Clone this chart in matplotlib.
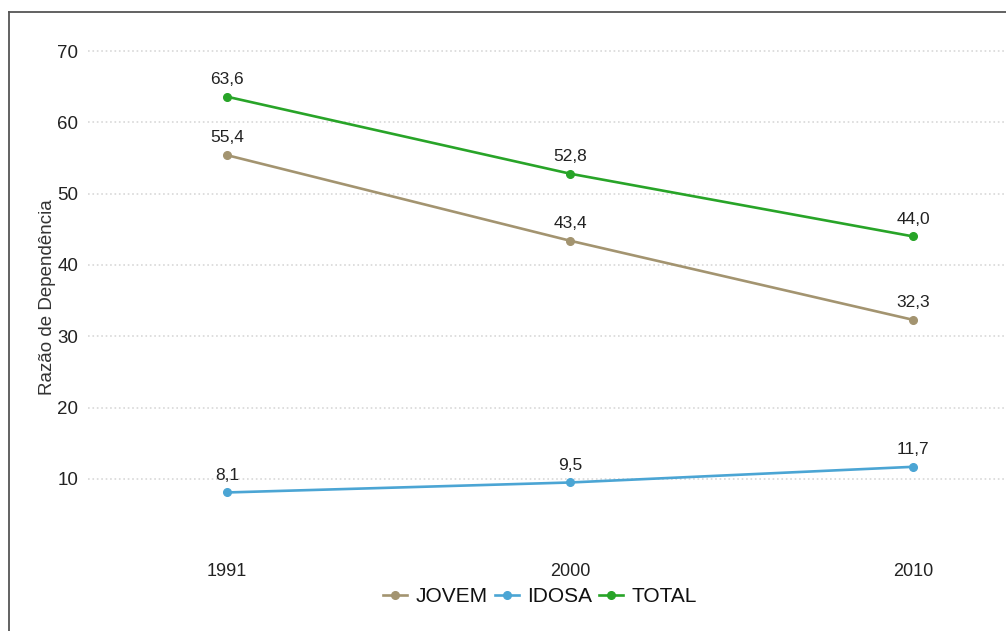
import matplotlib.pyplot as plt
from matplotlib.lines import Line2D

plt.rcParams['font.family'] = ['Liberation Sans', 'DejaVu Sans']

anos = ['1991', '2000', '2010']
jovem = [55.4, 43.4, 32.3]
idosa = [8.1, 9.5, 11.7]
total = [63.6, 52.8, 44.0]

series = [
    ('JOVEM', jovem, '#a39470'),
    ('IDOSA', idosa, '#4ba5d4'),
    ('TOTAL', total, '#28a428'),
]

fig = plt.figure(figsize=(10.06, 6.31), dpi=100)
ax = fig.add_axes([0.0875, 0.128, 0.9125, 0.825])

x = list(range(len(anos)))
for nome, vals, cor in series:
    ax.plot(x, vals, color=cor, lw=1.9, marker='o', ms=5.5, label=nome)
    for xi, v in zip(x, vals):
        ax.annotate(f'{v:.1f}'.replace('.', ','), (xi, v), xytext=(0, 7),
                    textcoords='offset points', ha='center', va='bottom',
                    fontsize=12.5, color='#222222')

ax.set_xlim(-0.405, 2.27)
ax.set_ylim(0, 73)
ax.set_yticks([10, 20, 30, 40, 50, 60, 70])
ax.set_xticks(x)
ax.set_xticklabels(anos)
ax.tick_params(length=0, labelsize=13, colors='#222222')
ax.tick_params(axis='x', pad=9)
ax.tick_params(axis='y', pad=7, labelsize=13.5)
ax.grid(axis='y', color='#d8d8d8', ls=':', lw=1.2)
for s in ax.spines.values():
    s.set_visible(False)
ax.set_ylabel('Razão de Dependência', fontsize=13.5, color='#333333')
ax.yaxis.set_label_coords(-0.035, 0.486)

fig.legend(loc='center', bbox_to_anchor=(540 / 1006, 1 - 597 / 631), ncol=3,
           frameon=False, fontsize=15, handlelength=1.15, handletextpad=0.4,
           columnspacing=0.35, labelcolor='#111111')

# frame edges on the left and top
fig.add_artist(Line2D([9 / 1006, 9 / 1006], [0, 1 - 12 / 631], transform=fig.transFigure,
                      color='#555555', lw=1.3))
fig.add_artist(Line2D([9 / 1006, 1], [1 - 12 / 631, 1 - 12 / 631], transform=fig.transFigure,
                      color='#555555', lw=1.3))

fig.savefig('out.png', dpi=100)
